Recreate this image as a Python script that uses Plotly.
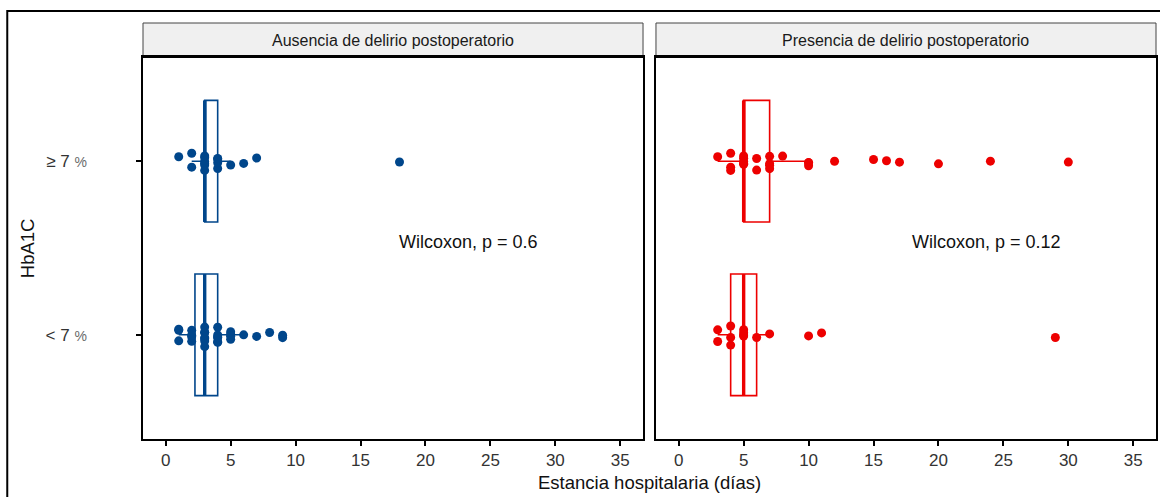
import plotly.graph_objects as go

# ---------------- data ----------------
panels = ["Ausencia de delirio postoperatorio", "Presencia de delirio postoperatorio"]
panel_colors = ["#00468B", "#ED0000"]
hba1c_pos = [1, 2]
hba1c_labels = ["< 7 <span style='font-size:14px;color:#6b6b6b'>%</span>",
                "≥ 7 <span style='font-size:14px;color:#6b6b6b'>%</span>"]

# hospital stay (days), per panel and HbA1C group
aus_lt7 = [1, 1, 1, 2, 2, 2, 2, 3, 3, 3, 3, 3, 3, 3, 4, 4, 4, 4, 4, 4, 5, 5, 5, 5, 6, 7, 8, 9, 9]
aus_ge7 = [1, 2, 2, 3, 3, 3, 3, 3, 3, 4, 4, 4, 4, 5, 6, 7, 18]
pre_lt7 = [3, 3, 4, 4, 4, 5, 5, 5, 5, 6, 7, 10, 11, 29]
pre_ge7 = [3, 4, 4, 4, 5, 5, 5, 5, 5, 6, 6, 7, 7, 7, 7, 8, 10, 10, 10, 12, 15, 16, 17, 20, 24, 30]
points = [[aus_lt7, aus_ge7], [pre_lt7, pre_ge7]]

# box statistics, order [< 7 %, >= 7 %]
box_q1 = [[2.25, 3], [4, 5]]
box_median = [[3, 3], [5, 5]]
box_q3 = [[4, 4], [6, 7]]
box_low = [[1, 2], [3, 3]]
box_high = [[6, 5], [7, 10]]

p_labels = ["Wilcoxon, p = 0.6", "Wilcoxon, p = 0.12"]
label_x = 17.8

x_ticks = [0, 5, 10, 15, 20, 25, 30, 35]

# ---------------- figure ----------------
FONT = "Liberation Sans, Arial, sans-serif"
BOXW = 0.7
fig = go.Figure()

for k in range(2):
    xa = "x" if k == 0 else "x2"
    ya = "y" if k == 0 else "y2"
    col = panel_colors[k]
    # boxes
    fig.add_trace(go.Box(
        orientation="h", y=hba1c_pos, q1=box_q1[k], median=box_median[k], q3=box_q3[k],
        lowerfence=box_low[k], upperfence=box_high[k], width=BOXW, whiskerwidth=0,
        line=dict(color=col, width=1.6), fillcolor="rgba(255,255,255,0)",
        boxpoints=False, xaxis=xa, yaxis=ya, showlegend=False, hoverinfo="skip"))
    # thicker median lines
    for j in range(2):
        m = box_median[k][j]
        fig.add_trace(go.Scatter(
            x=[m, m], y=[hba1c_pos[j] - BOXW / 2, hba1c_pos[j] + BOXW / 2],
            mode="lines", line=dict(color=col, width=3.4),
            xaxis=xa, yaxis=ya, showlegend=False, hoverinfo="skip"))
    # jittered points
    for j in range(2):
        vals = points[k][j]
        fig.add_trace(go.Box(
            orientation="h", x=vals, y=[hba1c_pos[j]] * len(vals), width=BOXW,
            boxpoints="all", jitter=0.2, pointpos=0,
            marker=dict(color=col, size=9, line=dict(width=0)),
            line=dict(width=0, color="rgba(0,0,0,0)"), fillcolor="rgba(0,0,0,0)",
            xaxis=xa, yaxis=ya, showlegend=False, hoveron="points"))

axis_common = dict(showline=True, mirror=True, linecolor="black", linewidth=1.5,
                   showgrid=False, zeroline=False)

L0, L1, R0 = 0.0, 0.4936, 0.5064
fig.update_layout(
    width=1160, height=497,
    margin=dict(l=143, r=2, t=57, b=58),
    paper_bgcolor="white", plot_bgcolor="white",
    font=dict(family=FONT, color="#222"),
    showlegend=False,
    xaxis=dict(domain=[L0, L1], range=[-1.75, 36.75], tickvals=x_ticks,
               ticks="outside", ticklen=5, tickwidth=1.5, tickcolor="black",
               tickfont=dict(size=17, color="#333"), anchor="y", **axis_common),
    xaxis2=dict(domain=[R0, 1.0], range=[-1.75, 36.75], tickvals=x_ticks,
                ticks="outside", ticklen=5, tickwidth=1.5, tickcolor="black",
                tickfont=dict(size=17, color="#333"), anchor="y2", **axis_common),
    yaxis=dict(domain=[0, 1], range=[0.4, 2.6], tickvals=hba1c_pos, ticktext=hba1c_labels,
               ticks="outside", ticklen=5, tickwidth=1.5, tickcolor="black",
               ticklabelstandoff=46,
               tickfont=dict(size=17, color="#333"), anchor="x", **axis_common),
    yaxis2=dict(domain=[0, 1], range=[0.4, 2.6], showticklabels=False, ticks="",
                anchor="x2", **axis_common),
)

STRIP_TOP = 1.089
shapes = []
annotations = []
for k, (x0, x1) in enumerate([(L0, L1), (R0, 1.0)]):
    shapes.append(dict(type="rect", xref="paper", yref="paper", x0=x0, x1=x1,
                       y0=1.0, y1=STRIP_TOP, fillcolor="#F0F0F0",
                       line=dict(color="#444", width=1), layer="below"))
    annotations.append(dict(xref="paper", yref="paper", x=(x0 + x1) / 2, y=(1 + STRIP_TOP) / 2,
                            text=panels[k], showarrow=False, xanchor="center", yanchor="middle",
                            font=dict(size=16, color="#1a1a1a", family=FONT)))
    annotations.append(dict(xref="x" if k == 0 else "x2", yref="y" if k == 0 else "y2",
                            x=label_x, y=1.535, text=p_labels[k], showarrow=False,
                            xanchor="left", yanchor="middle",
                            font=dict(size=18, color="#111", family=FONT)))
    # thick panel top line
    shapes.append(dict(type="line", xref="paper", yref="paper", x0=x0, x1=x1, y0=1.0, y1=1.0,
                       line=dict(color="black", width=2.2)))

# outer frame of the screenshot
shapes.append(dict(type="rect", xref="paper", yref="paper", x0=-0.134, x1=1.05,
                   y0=-0.6, y1=1.1204, line=dict(color="black", width=2),
                   fillcolor="rgba(0,0,0,0)"))

annotations.append(dict(xref="paper", yref="paper", x=0.5, y=-0.1126,
                        text="Estancia hospitalaria (días)", showarrow=False,
                        xanchor="center", yanchor="middle",
                        font=dict(size=18.5, color="#111", family=FONT)))
annotations.append(dict(xref="paper", yref="paper", x=-0.1143, y=0.5, text="HbA1C",
                        textangle=-90, showarrow=False, xanchor="center", yanchor="middle",
                        font=dict(size=18.5, color="#111", family=FONT)))

fig.update_layout(shapes=shapes, annotations=annotations)
fig.write_html("out.html", config={"displayModeBar": False},
               post_script="document.body.style.margin='0px';document.body.style.overflow='hidden';")
